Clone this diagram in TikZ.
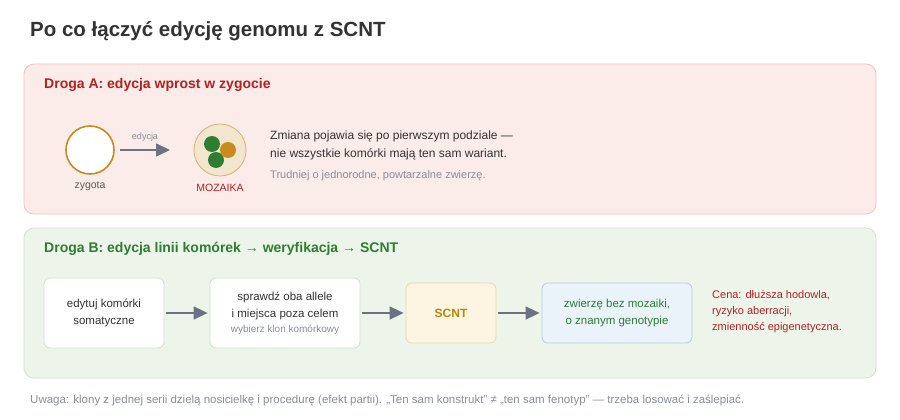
\documentclass[tikz,border=0pt]{standalone}
\usepackage{fontspec}
\setmainfont{Liberation Sans}
\usetikzlibrary{arrows.meta}
\definecolor{ared}{HTML}{B52020}
\definecolor{agreen}{HTML}{2E7D32}
\definecolor{gold}{HTML}{C98A1E}
\definecolor{txt}{HTML}{333333}
\definecolor{mute}{HTML}{8A8F99}
\definecolor{arr}{HTML}{6B7280}
\definecolor{pafill}{RGB}{251,236,234}
\definecolor{padraw}{RGB}{240,196,192}
\definecolor{pbfill}{RGB}{237,245,234}
\definecolor{pbdraw}{RGB}{207,227,203}
\definecolor{mozd}{RGB}{217,177,112}
\definecolor{mozf}{RGB}{243,230,207}
\definecolor{scd}{RGB}{236,217,165}
\definecolor{scf}{RGB}{253,245,225}
\definecolor{sct}{RGB}{184,134,11}
\definecolor{bld}{RGB}{182,205,227}
\definecolor{blf}{RGB}{234,243,249}
\tikzset{
 panel/.style={rounded corners=10pt,line width=0.8pt},
 step/.style={rounded corners=6pt,draw=#1,line width=0.8pt,minimum height=70pt,align=center,font=\fontsize{11.5}{17}\selectfont,text=txt},
 flow/.style={-{Triangle[length=14pt,width=13pt]},draw=arr,line width=1.6pt,shorten <=2pt,shorten >=2pt},
}
\begin{document}
\begin{tikzpicture}[x=1pt,y=-1pt]
\useasboundingbox[fill=white] (0,0) rectangle (900,420);
\node[anchor=west,inner sep=0,font=\bfseries\fontsize{20.5}{24}\selectfont,text=txt] (title) at (30,31) {Po co łączyć edycję genomu z SCNT};
% panel A
\draw[panel,fill=pafill,draw=padraw] (24,64) rectangle (876,214);
\node[anchor=west,inner sep=0,font=\bfseries\fontsize{14}{16}\selectfont,text=ared] (ta) at (44,85) {Droga A: edycja wprost w zygocie};
\node[circle,draw=gold,line width=1.6pt,fill=white,minimum size=48pt,inner sep=0] (zyg) at (90,150) {};
\node[font=\fontsize{10.5}{12}\selectfont,text=txt!80] (zl) at (90,186) {zygota};
\node[circle,draw=mozd,line width=0.8pt,fill=mozf,minimum size=52pt,inner sep=0] (moz) at (220,150) {};
\fill[agreen] (212,144) circle (8);
\fill[agreen] (216,160) circle (8);
\fill[gold] (228,150) circle (8);
\node[font=\fontsize{10.5}{12}\selectfont,text=ared] (ml) at (220,188) {MOZAIKA};
\coordinate (a1) at (118,150); \coordinate (a2) at (172,150);
\draw[flow,line width=1.5pt] (a1) -- (a2);
\node[font=\fontsize{9}{11}\selectfont,text=mute] (ed) at (145,137) {edycja};
\node[anchor=west,inner sep=0,font=\fontsize{12}{18}\selectfont,text=txt,align=left] (za) at (270,145) {Zmiana pojawia się po pierwszym podziale —\\nie wszystkie komórki mają ten sam wariant.};
\node[anchor=west,inner sep=0,font=\fontsize{11}{13}\selectfont,text=mute] (tr) at (270,176) {Trudniej o jednorodne, powtarzalne zwierzę.};
% panel B
\draw[panel,fill=pbfill,draw=pbdraw] (24,228) rectangle (876,378);
\node[anchor=west,inner sep=0,font=\bfseries\fontsize{14}{16}\selectfont,text=agreen] (tb) at (44,249) {Droga B: edycja linii komórek → weryfikacja → SCNT};
\node[step=pbdraw,fill=white,minimum width=120pt] (b1) at (104,313) {edytuj komórki\\somatyczne};
\node[step=pbdraw,fill=white,minimum width=150pt] (b2) at (285,313) {sprawdź oba allele\\i miejsca poza celem\\[-2pt]{\color{mute}\fontsize{10}{12}\selectfont wybierz klon komórkowy}};
\node[step=scd,fill=scf,minimum width=90pt,minimum height=60pt,font=\bfseries\fontsize{12}{14}\selectfont,text=sct] (b3) at (451,313) {SCNT};
\node[step=bld,fill=blf,minimum width=150pt,minimum height=60pt,text=agreen] (b4) at (617,313) {zwierzę bez mozaiki,\\o znanym genotypie};
\draw[flow] (b1) -- (b2);
\draw[flow] (b2) -- (b3);
\draw[flow] (b3) -- (b4);
\node[anchor=west,inner sep=0,align=left,font=\fontsize{11}{16}\selectfont,text=ared] (cena) at (712,312) {Cena: dłuższa hodowla,\\ryzyko aberracji,\\zmienność epigenetyczna.};
\node[anchor=west,inner sep=0,font=\fontsize{11.5}{13}\selectfont,text=mute] (foot) at (30,400) {Uwaga: klony z jednej serii dzielą nosicielkę i procedurę (efekt partii). „Ten sam konstrukt” ≠ „ten sam fenotyp” — trzeba losować i zaślepiać.};
\end{tikzpicture}
\end{document}
